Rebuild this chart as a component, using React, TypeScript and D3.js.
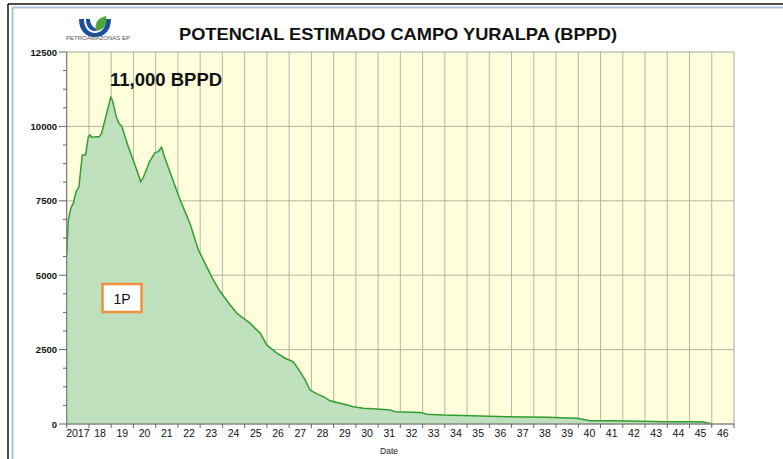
import React from "react";
import * as d3 from "d3";

// decimal year read off the curve, and the estimated rate (BPPD)
const years = [
  2017.0, 2017.07, 2017.19, 2017.3, 2017.42, 2017.55, 2017.7, 2017.85, 2017.97, 2018.05,
  2018.12, 2018.27, 2018.47, 2018.57, 2018.72, 2018.98, 2019.05, 2019.25, 2019.37, 2019.47,
  2019.77, 2020.07, 2020.33, 2020.45, 2020.72, 2020.97, 2021.12, 2021.26, 2021.42, 2021.72,
  2022.1, 2022.55, 2022.92, 2023.22, 2023.59, 2023.9, 2024.35, 2024.65, 2025.25, 2025.7,
  2026.0, 2026.45, 2026.82, 2027.19, 2027.49, 2027.72, 2027.94, 2028.25, 2028.54, 2028.84,
  2029.29, 2029.6, 2029.89, 2030.34, 2030.95, 2031.54, 2031.77, 2032.89, 2033.19, 2033.94,
  2035.6, 2036.79, 2038.59, 2039.94, 2040.54, 2041.59, 2043.99, 2045.57, 2046.02,
];
const bppd = [
  5680, 6850, 7260, 7430, 7800, 7970, 9040, 9040, 9650, 9710,
  9630, 9650, 9650, 9770, 10210, 10980, 10890, 10270, 10080, 10010,
  9320, 8700, 8140, 8290, 8810, 9120, 9150, 9300, 8930, 8310,
  7530, 6720, 5850, 5400, 4840, 4450, 4000, 3720, 3380, 3050,
  2650, 2380, 2210, 2090, 1760, 1480, 1140, 1010, 920, 780,
  700, 640, 580, 530, 500, 470, 410, 390, 330, 300,
  265, 245, 225, 190, 110, 110, 77, 77, 0,
];

const yTicks = [0, 2500, 5000, 7500, 10000, 12500];
const yearLabels = d3.range(2017, 2047);

const W = 783;
const H = 459;
const left = 66.7, right = 734, top = 52, bottom = 424;
const font = "'Liberation Sans', Arial, sans-serif";

export default function App() {
  const x = d3.scaleLinear().domain([2017, 2047]).range([left, right]);
  const y = d3.scaleLinear().domain([0, 12500]).range([bottom, top]);
  const pts = years.map((t, i) => [t, bppd[i]] as [number, number]);

  const area = d3.area<[number, number]>()
    .x(d => x(d[0]))
    .y0(y(0))
    .y1(d => y(d[1]));
  const line = d3.line<[number, number]>()
    .x(d => x(d[0]))
    .y(d => y(d[1]));

  const minor = d3.range(0, 12501, 625);

  return (
    <svg width={W} height={H} style={{ position: "absolute", left: 0, top: 0, background: "#fff" }}>
      {/* outer frame */}
      <line x1={8} y1={4} x2={W} y2={4} stroke="#111" strokeWidth={1.5} />
      <line x1={8} y1={4} x2={8} y2={H} stroke="#111" strokeWidth={1.5} />
      <line x1={12} y1={7.5} x2={W} y2={7.5} stroke="#a9c3df" strokeWidth={2} />
      <line x1={12.5} y1={7.5} x2={12.5} y2={H} stroke="#a9c3df" strokeWidth={2} />

      {/* logo */}
      <g>
        <path d="M79,19 C79,31 86,37 95,37 C104,37 111,31 111,19 L106,19 C106,28 101,33 95,33 C89,33 84,28 84,19 Z" fill="#1e4f9c" />
        <path d="M86,19 C86,27 90,31 95,31 C96,31 97,30 97,29 C92,27 90,23 90,19 Z" fill="#1e4f9c" />
        <path d="M96,31 C94,23 98,18 106,16 C108,25 103,30 96,31 Z" fill="#4aa83a" />
        <text x={66} y={40} fontFamily={font} fontSize={5} fill="#555" textLength={64} lengthAdjust="spacingAndGlyphs">PETROAMAZONAS EP</text>
      </g>

      <text x={179} y={40} fontFamily={font} fontWeight="bold" fontSize={16.5} fill="#111"
        textLength={438} lengthAdjust="spacingAndGlyphs">
        POTENCIAL ESTIMADO CAMPO YURALPA (BPPD)
      </text>

      {/* plot background */}
      <rect x={left} y={top} width={right - left} height={bottom - top} fill="#ffffdc" />

      {/* grid */}
      {yearLabels.slice(1).map(t => (
        <line key={"v" + t} x1={x(t)} x2={x(t)} y1={top} y2={bottom} stroke="#b7b5a6" strokeWidth={1} />
      ))}
      {yTicks.slice(1, -1).map(v => (
        <line key={"h" + v} x1={left} x2={right} y1={y(v)} y2={y(v)} stroke="#b7b5a6" strokeWidth={1} />
      ))}

      <path d={area(pts) || ""} fill="#bfe0bd" />
      <path d={line(pts) || ""} fill="none" stroke="#2f9e2f" strokeWidth={1.5} />

      <rect x={left} y={top} width={right - left} height={bottom - top} fill="none" stroke="#a6a6a0" strokeWidth={1} />

      {/* y axis */}
      <line x1={left} x2={left} y1={top} y2={bottom} stroke="#777" />
      {minor.map(v => (
        <line key={"m" + v} x1={yTicks.includes(v) ? 59 : 63} x2={left} y1={y(v)} y2={y(v)} stroke="#666" />
      ))}
      {yTicks.map(v => (
        <text key={"yl" + v} x={57} y={y(v) + 3.5} textAnchor="end" fontFamily={font} fontWeight="bold" fontSize={9.5} fill="#111">
          {v}
        </text>
      ))}

      {/* x axis */}
      <line x1={left} x2={right} y1={bottom} y2={bottom} stroke="#777" />
      {d3.range(2017, 2048).map(t => (
        <line key={"xt" + t} x1={x(t)} x2={x(t)} y1={bottom} y2={bottom + 4} stroke="#666" />
      ))}
      {yearLabels.map(t => (
        <text key={"xl" + t} x={x(t + 0.5)} y={437} textAnchor="middle" fontFamily={font} fontSize={10.5} fill="#111">
          {t === 2017 ? "2017" : String(t % 100)}
        </text>
      ))}
      <text x={389} y={454} textAnchor="middle" fontFamily={font} fontSize={8.5} fill="#222">Date</text>

      {/* annotations */}
      <text x={110} y={86} fontFamily={font} fontWeight="bold" fontSize={18.5} fill="#111">11,000 BPPD</text>
      <rect x={102.5} y={284} width={39} height={28} fill="#fff" stroke="#f0903c" strokeWidth={2.5} />
      <text x={122} y={303.5} textAnchor="middle" fontFamily={font} fontSize={14} fill="#111">1P</text>
    </svg>
  );
}
